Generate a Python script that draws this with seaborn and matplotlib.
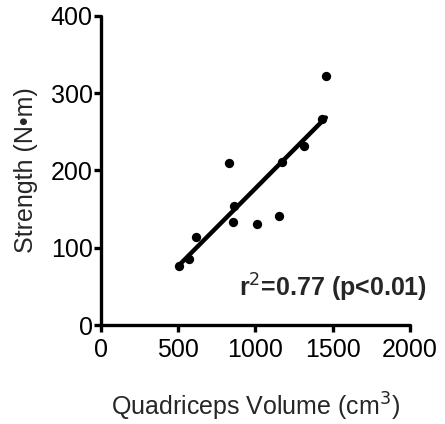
import numpy as np
import pandas as pd
import matplotlib
matplotlib.use("Agg")
import matplotlib.pyplot as plt
import seaborn as sns

# quadriceps volume (cm^3) vs strength (N·m)
volume   = [507, 570, 615, 831, 863, 856, 1008, 1150, 1170, 1316, 1428, 1456]
strength = [77, 85, 114, 210, 154, 134, 131, 141, 211, 231, 266, 322]
x_ticks  = [0, 500, 1000, 1500, 2000]
y_ticks  = [0, 100, 200, 300, 400]

df = pd.DataFrame({"volume": volume, "strength": strength})

sns.set_style("ticks")
plt.rcParams["font.family"] = ["Liberation Sans", "DejaVu Sans"]

fig = plt.figure(figsize=(4.45, 4.24), dpi=100)
ax = fig.add_axes([0.227, 0.233, 0.694, 0.730])

sns.regplot(data=df, x="volume", y="strength", ci=None, ax=ax,
            scatter_kws={"s": 45, "color": "black", "alpha": 1,
                         "linewidths": 0},
            line_kws={"color": "black", "lw": 3.2})

ax.set_xlim(0, 2000)
ax.set_ylim(0, 400)
ax.set_xticks(x_ticks)
ax.set_yticks(y_ticks)
for s in ("top", "right"):
    ax.spines[s].set_visible(False)
for s in ("left", "bottom"):
    ax.spines[s].set_linewidth(2.4)
    ax.spines[s].set_color("black")
    ax.spines[s].set_capstyle("round")
ax.tick_params(length=5, width=2.4, labelsize=18, colors="black")
ax.tick_params(axis="x", pad=4)
ax.tick_params(axis="y", pad=1)

ax.set_xlabel("Quadriceps Volume (cm$^3$)", fontsize=18, labelpad=21)
ax.set_ylabel("Strength (N•m)", fontsize=18, labelpad=9)

ax.text(2110, 28, "r$^2$=0.77 (p<0.01)", ha="right", va="bottom",
        fontsize=18, fontweight="bold", clip_on=False)

fig.savefig("out.png", dpi=100)
